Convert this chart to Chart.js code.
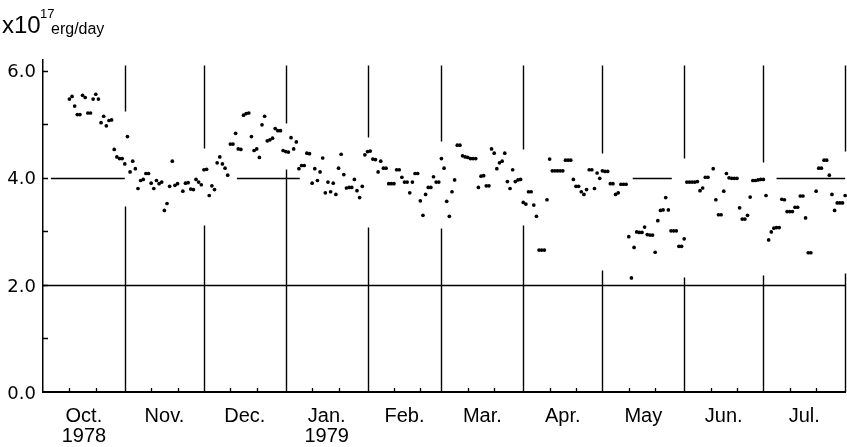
<!DOCTYPE html>
<html>
<head>
<meta charset="utf-8">
<script src="https://cdn.jsdelivr.net/npm/chart.js@4.4.1/dist/chart.umd.min.js"></script>
<style>
  html, body { margin: 0; padding: 0; background: #fff; }
  #wrap { position: relative; width: 847px; height: 447px; }
  #unit span { position: absolute; font-family: "Liberation Sans", Arial, sans-serif; line-height: 1; color: #000; white-space: nowrap; }
  #u-x10 { left: 2px; top: 13px; font-size: 24px; }
  #u-exp { left: 40px; top: 7px; font-size: 13px; }
  #u-erg { left: 51px; top: 21px; font-size: 16px; }
</style>
</head>
<body>
<div id="wrap">
  <canvas id="chart" width="847" height="447"></canvas>
  <div id="unit"><span id="u-x10">x10</span><span id="u-exp">17</span><span id="u-erg">erg/day</span></div>
</div>
<script>
// Months on the x axis (Oct 1978 .. Jul 1979), days counted from 1 Oct 1978
const monthLabels = ['Oct.', 'Nov.', 'Dec.', 'Jan.', 'Feb.', 'Mar.', 'Apr.', 'May', 'Jun.', 'Jul.'];
const yearLabels = ['1978', '', '', '1979', '', '', '', '', '', ''];
const monthDays = [31, 30, 31, 31, 28, 31, 30, 31, 30, 31];
const yLabelValues = [0, 2, 4, 6];

// Daily energy values, x10^17 erg/day (index = day of month - 1)
const octValues = [null, null, null, null, null, null, null, null, null, null,
  5.47, 5.52, 5.34, 5.18, 5.18, 5.54, 5.50, 5.21, 5.21, 5.47, 5.56,
  5.47, 5.03, 5.15, 4.97, 5.07, 5.08, 4.53, 4.39, 4.36, 4.36];
const novValues = [4.26, 4.77, 4.11, 4.31, 4.17, 3.80, 3.95, 3.97, 4.08, 4.08,
  3.90, 3.80, 3.95, 3.89, 3.92, 3.39, 3.52, 3.84, 4.31, 3.86,
  3.89, null, 3.75, 3.90, 3.91, 3.79, 3.78, 3.97, 3.92, 3.87];
const decValues = [4.15, 4.16, 3.67, 3.85, 3.78, 4.28, 4.39, 4.26, 4.18, 4.05,
  4.63, 4.63, 4.83, 4.54, 4.53, 5.17, 5.20, 5.21, 4.77, 4.51,
  4.54, 4.38, 4.99, 5.15, 4.69, 4.71, 4.74, 4.92, 4.88, 4.88, 4.51];
const janValues = [4.49, 4.48, 4.75, 4.54, 4.67, 4.17, 4.23, 4.23, 4.46, 4.45,
  3.90, 4.17, 3.95, 4.11, 4.37, 3.72, 3.92, 3.74, 3.90, 3.69,
  4.18, 4.44, 4.06, 3.81, 3.82, 3.82, 3.97, 3.76, 3.63, 3.84, 4.43];
const febValues = [4.49, 4.50, 4.35, 4.34, 4.11, 4.31, 4.18, 4.18, 3.89, 3.89,
  3.89, 4.15, 4.15, 4.01, 3.92, 3.92, 3.72, 3.92, 4.08, 4.08,
  3.57, 3.30, 3.69, 3.82, 3.82, 4.02, 3.92, 3.92];
const marValues = [4.36, 4.18, 3.56, 3.28, 3.74, 3.96, 4.61, 4.61, 4.41, 4.39,
  4.38, 4.36, 4.36, 4.36, 3.82, 4.03, 4.04, 3.85, 3.85, 4.54,
  4.46, 4.17, 4.28, 4.31, 4.46, 3.93, 3.80, 4.15, 3.93, 3.96, 3.97];
const aprValues = [3.54, 3.51, 3.74, 3.74, 3.49, 3.28, 2.65, 2.65, 2.65, 3.59,
  4.35, 4.13, 4.13, 4.13, 4.13, 4.13, 4.33, 4.33, 4.33, 3.97,
  3.84, 3.84, 3.74, 3.69, 3.78, 4.15, 4.15, 3.80, 4.09, 3.99];
const mayValues = [4.13, 4.12, 4.12, 3.89, 3.89, 3.69, 3.72, 3.88, 3.88, 3.88,
  2.90, 2.13, 2.70, 2.99, 2.98, 2.98, 3.08, 2.94, 2.93, 2.93,
  2.61, 3.20, 3.39, 3.40, 3.63, 3.40, 3.01, 3.01, 3.01, 2.72, 2.72];
const junValues = [2.86, 3.92, 3.92, 3.92, 3.92, 3.93, 3.76, 3.81, 4.01, 4.01,
  null, 4.17, 3.59, 3.31, 3.31, 3.75, 4.08, 4.00, 3.99, 3.99,
  3.99, 3.44, 3.23, 3.23, 3.30, 3.64, 3.95, 3.95, 3.96, 3.97];
const julValues = [3.97, 3.67, 2.84, 2.99, 3.06, 3.07, 3.07, 3.60, 3.59, 3.37,
  3.37, 3.37, 3.45, 3.45, 3.66, 3.66, 3.25, 2.60, 2.60, null,
  3.75, 4.18, 4.18, 4.33, 4.33, 4.05, 3.69, 3.39, 3.53, 3.53, 3.53];
const augValues = [3.67];

const monthValues = [octValues, novValues, decValues, janValues, febValues,
  marValues, aprValues, mayValues, junValues, julValues, augValues];

// day number where each month starts (last entry = 1 Aug)
const monthStarts = [0];
monthDays.forEach(n => monthStarts.push(monthStarts[monthStarts.length - 1] + n));
const monthMids = monthDays.map((n, i) => monthStarts[i] + n / 2);

const points = [];
monthValues.forEach((vals, m) => {
  vals.forEach((v, i) => {
    if (v !== null) points.push({ x: monthStarts[m] + i, y: v });
  });
});

// drafting style: where the month lines are broken around the data (value units)
const monthLineGaps = [[3.48, 5.25], [3.11, 4.56], [4.17, 5.03], [3.08, 4.77], [3.06, 4.69],
  [3.12, 4.53], [2.27, 4.47], [2.15, 4.37], [2.18, 4.30], [2.22, 4.50]];
// pieces of the 4.0 line that are drawn (day units)
const line4Pieces = [[3, 31], [73.5, 97.3], [223.5, 238.3], [278, 304]];

const ink = '#000';

const draftGrid = {
  id: 'draftGrid',
  beforeDatasetsDraw(chart) {
    const { ctx, scales: { x, y }, chartArea: a } = chart;
    const px = d => Math.round(x.getPixelForValue(d)) + 0.5;
    const py = v => Math.round(y.getPixelForValue(v)) + 0.5;
    ctx.save();
    ctx.strokeStyle = ink;
    ctx.lineWidth = 1.4;

    // month boundary lines
    monthStarts.slice(1).forEach((d, i) => {
      const xx = px(d);
      const [lo, hi] = monthLineGaps[i];
      ctx.beginPath();
      ctx.moveTo(xx, py(6.1));
      ctx.lineTo(xx, py(hi));
      ctx.moveTo(xx, py(lo));
      ctx.lineTo(xx, a.bottom);
      ctx.stroke();
    });

    // 2.0 line, full width
    ctx.beginPath();
    ctx.moveTo(a.left, py(2));
    ctx.lineTo(a.right, py(2));
    ctx.stroke();

    // 4.0 line, only where it clears the data
    ctx.beginPath();
    line4Pieces.forEach(([d0, d1]) => {
      ctx.moveTo(x.getPixelForValue(d0), py(4));
      ctx.lineTo(x.getPixelForValue(d1), py(4));
    });
    ctx.stroke();

    // inner ticks on the value axis
    ctx.lineWidth = 1.3;
    ctx.beginPath();
    for (let v = 1; v <= 6; v++) {
      ctx.moveTo(a.left, py(v));
      ctx.lineTo(a.left + 5, py(v));
    }
    ctx.stroke();

    // small ticks on the time axis (11th and 21st of each month)
    ctx.beginPath();
    monthStarts.slice(0, -1).forEach(d => {
      [10, 20].forEach(k => {
        ctx.moveTo(px(d + k), a.bottom);
        ctx.lineTo(px(d + k), a.bottom - 4);
      });
    });
    ctx.stroke();
    ctx.restore();
  }
};

new Chart(document.getElementById('chart'), {
  type: 'scatter',
  data: {
    datasets: [{
      data: points,
      pointRadius: 1.85,
      pointHoverRadius: 1.85,
      pointBackgroundColor: ink,
      pointBorderWidth: 0,
      showLine: false,
      clip: false
    }]
  },
  options: {
    responsive: false,
    animation: false,
    devicePixelRatio: 1,
    layout: { padding: { top: 60, right: 1, left: 0, bottom: 0 } },
    plugins: { legend: { display: false }, tooltip: { enabled: false } },
    scales: {
      x: {
        type: 'linear',
        min: 0,
        max: monthStarts[monthStarts.length - 1],
        afterBuildTicks: s => { s.ticks = monthMids.map(v => ({ value: v })); },
        afterFit: s => { s.height = 55; },
        grid: { display: false },
        border: { display: true, color: ink, width: 2 },
        ticks: {
          autoSkip: false,
          maxRotation: 0,
          padding: 6,
          color: ink,
          font: { family: '"Liberation Sans", Arial, sans-serif', size: 20, lineHeight: 1.0 },
          callback: (v, i) => yearLabels[i] ? [monthLabels[i], yearLabels[i]] : monthLabels[i]
        }
      },
      y: {
        min: 0,
        max: 6.2,
        afterBuildTicks: s => { s.ticks = yLabelValues.map(v => ({ value: v })); },
        afterFit: s => { s.width = 43; },
        grid: { display: false, drawTicks: false },
        border: { display: true, color: ink, width: 1.5 },
        ticks: {
          padding: 7,
          labelOffset: 2,
          color: ink,
          font: { family: '"DejaVu Sans", sans-serif', size: 18 },
          callback: v => v.toFixed(1)
        }
      }
    }
  },
  plugins: [draftGrid]
});
</script>
</body>
</html>
